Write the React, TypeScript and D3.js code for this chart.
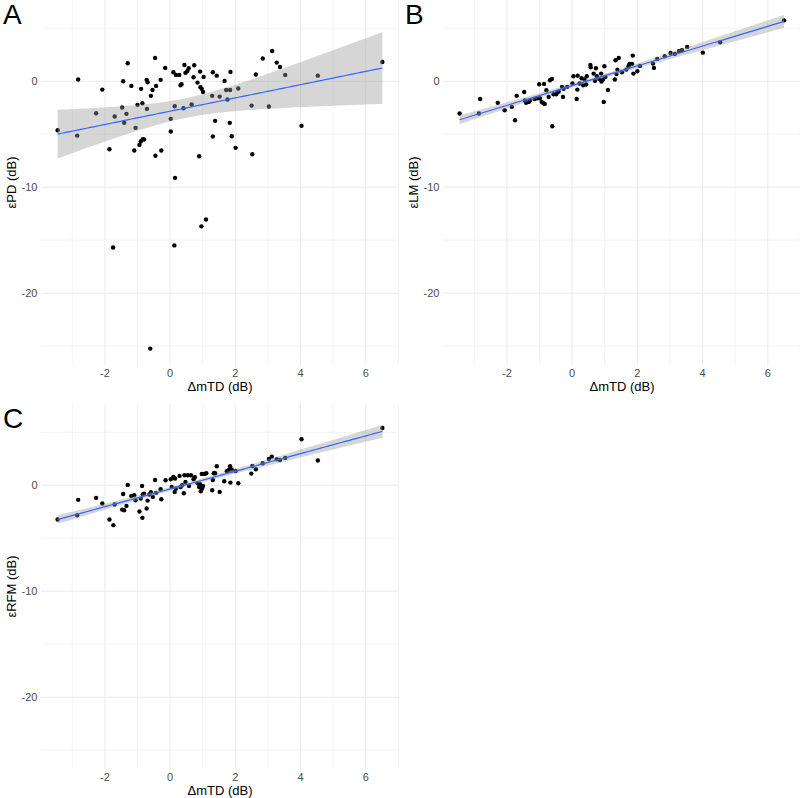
import React from "react";
import * as d3 from "d3";

// ---------- data ----------
const aX = [-3.45,-2.85,-2.82,-2.08,-2.27,-1.86,-1.70,-1.47,-1.44,-1.41,-1.34,-1.30,-1.19,-1.10,-1.06,-1.00,-0.94,-0.90,-0.89,-0.85,-0.84,-0.80,-0.72,-0.71,-0.69,-0.59,-0.54,-0.46,-0.45,-0.43,-0.29,-0.27,-0.15,0.02,0.02,0.10,0.14,0.15,0.18,0.28,0.32,0.35,0.41,0.44,0.47,0.53,0.57,0.66,0.72,0.74,0.84,0.89,0.92,0.93,0.97,1.01,1.03,1.29,1.31,1.31,1.38,1.43,1.52,1.67,1.72,1.76,1.83,1.84,1.85,1.89,2.01,2.09,2.50,2.52,2.63,2.84,3.03,3.13,3.27,3.37,3.53,4.03,4.53,6.51,-1.75,0.13,0.96,1.10,-0.61];
const aY = [-4.62,-5.13,0.16,-0.79,-3.02,-6.42,-3.33,-2.48,0.00,-3.93,-3.08,1.70,-0.44,-6.54,-4.40,-2.23,-6.01,-5.69,-0.72,-2.08,-5.47,-5.50,0.13,-2.61,-0.09,-1.38,-0.82,2.20,-7.04,-0.44,0.13,-6.54,1.26,-3.55,-4.75,0.85,-2.36,-9.12,0.60,0.60,-0.38,-0.28,-2.55,1.54,0.79,0.97,1.23,-2.20,0.38,1.51,-0.13,-7.08,0.91,-0.57,-0.72,-1.01,0.41,-1.38,0.85,-5.22,-3.74,0.53,-1.45,0.03,-0.82,-1.73,-3.93,-0.82,0.88,-5.19,-6.29,-0.69,-2.30,-6.89,0.63,2.14,-2.39,2.86,1.76,1.35,0.60,-4.21,0.53,1.82,-15.7,-15.5,-13.7,-13.06,-25.24];

const bX = [-3.45,-2.86,-2.82,-2.28,-2.07,-1.85,-1.75,-1.70,-1.47,-1.45,-1.41,-1.33,-1.29,-1.15,-1.07,-1.01,-0.99,-0.93,-0.88,-0.84,-0.86,-0.79,-0.72,-0.68,-0.62,-0.61,-0.57,-0.49,-0.45,-0.41,-0.28,-0.26,-0.15,0.01,0.04,0.14,0.16,0.17,0.23,0.29,0.34,0.38,0.43,0.45,0.56,0.57,0.66,0.73,0.76,0.83,0.89,0.90,0.95,0.97,0.99,1.02,1.10,1.31,1.33,1.36,1.39,1.43,1.53,1.66,1.73,1.76,1.84,1.86,1.88,2.00,2.08,2.48,2.51,2.61,2.84,3.02,3.15,3.28,3.37,3.53,4.01,4.54,6.50,-0.31,0.70];
const bY = [-3.05,-3.05,-1.67,-2.04,-2.74,-2.42,-3.68,-1.38,-1.01,-1.82,-2.04,-1.95,-1.79,-1.67,-1.60,-0.28,-1.60,-1.95,-2.08,-2.14,-0.25,-0.85,-1.48,0.09,0.22,-4.25,-1.23,-1.23,-1.04,-0.97,-1.48,-0.72,-0.53,-0.22,0.47,-1.67,-0.79,0.53,-0.22,0.28,-0.38,0.16,-0.31,0.47,1.54,1.32,0.72,1.23,0.47,0.22,0.72,-0.03,0.16,-1.95,1.42,0.41,-0.82,0.16,1.98,0.69,1.10,2.20,0.85,1.10,1.42,1.64,1.64,2.42,0.72,0.94,1.45,1.67,1.26,2.11,2.36,2.67,2.58,2.83,2.92,3.24,2.70,3.68,5.75,-0.53,0.05];

const cX = [-3.45,-2.85,-2.82,-2.27,-2.08,-1.86,-1.74,-1.70,-1.47,-1.44,-1.41,-1.34,-1.30,-1.19,-1.10,-1.06,-0.94,-0.90,-0.86,-0.85,-0.84,-0.80,-0.72,-0.69,-0.64,-0.59,-0.53,-0.46,-0.43,-0.29,-0.27,-0.14,0.02,0.05,0.10,0.14,0.15,0.18,0.29,0.32,0.37,0.42,0.44,0.47,0.54,0.58,0.64,0.72,0.76,0.84,0.89,0.92,0.94,0.97,0.98,1.01,1.05,1.11,1.29,1.31,1.34,1.38,1.43,1.52,1.66,1.74,1.80,1.84,1.85,1.89,2.01,2.09,2.49,2.52,2.63,2.84,3.03,3.12,3.27,3.37,3.53,4.03,4.53,6.51];
const cY = [-3.24,-2.83,-1.38,-1.19,-1.73,-3.24,-3.77,-1.82,-2.30,-0.82,-2.36,-1.95,0.03,-1.01,-0.94,-1.42,-2.48,-1.26,-0.06,-3.08,-0.88,-0.79,-2.20,-1.45,-0.88,-0.66,-1.10,0.50,-0.72,-0.38,-1.32,0.47,0.57,-0.16,0.79,-0.63,0.63,-0.31,0.88,-0.16,0.00,-0.75,0.94,0.31,0.94,-0.06,0.94,0.57,0.75,0.19,-0.16,0.09,-0.57,1.07,-0.31,-0.06,1.07,1.13,-0.47,0.50,1.13,1.13,1.79,-0.63,0.38,1.32,1.45,1.79,0.25,1.48,1.35,0.19,1.10,1.82,1.51,2.08,2.48,2.70,2.45,2.39,2.58,4.34,2.33,5.41];

const xMajor = [-2, 0, 2, 4, 6];
const xMinor = [-3, -1, 1, 3, 5, 7];
const yMajor = [-20, -10, 0];
const yMinor = [-25, -15, -5, 5];
const xTitle = "ΔmTD (dB)";

const FONT = "'Liberation Sans', Arial, Helvetica, sans-serif";
const T_CRIT = 1.99;

function fit(xs: number[], ys: number[]) {
  const n = xs.length;
  const mx = d3.mean(xs)!;
  const my = d3.mean(ys)!;
  let sxx = 0, sxy = 0;
  for (let i = 0; i < n; i++) {
    sxx += (xs[i] - mx) ** 2;
    sxy += (xs[i] - mx) * (ys[i] - my);
  }
  const b = sxy / sxx;
  const a = my - b * mx;
  let sse = 0;
  for (let i = 0; i < n; i++) sse += (ys[i] - a - b * xs[i]) ** 2;
  const s2 = sse / (n - 2);
  const [lo, hi] = d3.extent(xs) as [number, number];
  const pts = d3.range(80).map((i) => {
    const x0 = lo + ((hi - lo) * i) / 79;
    const yh = a + b * x0;
    const se = Math.sqrt(s2 * (1 / n + (x0 - mx) ** 2 / sxx));
    return { x: x0, y: yh, lo: yh - T_CRIT * se, hi: yh + T_CRIT * se };
  });
  return pts;
}

type PanelProps = {
  xs: number[];
  ys: number[];
  left: number;
  top: number;
  tag: string;
  yTitle: string;
};

function Panel({ xs, ys, left, top, tag, yTitle }: PanelProps) {
  const width = 358;
  const height = 365;
  const x = d3.scaleLinear().domain([-3.96, 7.02]).range([left, left + width]);
  const y = d3.scaleLinear().domain([-26.79, 7.67]).range([top + height, top]);
  const pts = fit(xs, ys);
  const area = d3
    .area<{ x: number; lo: number; hi: number }>()
    .x((d) => x(d.x))
    .y0((d) => y(d.lo))
    .y1((d) => y(d.hi));
  const line = d3
    .line<{ x: number; y: number }>()
    .x((d) => x(d.x))
    .y((d) => y(d.y));
  const x0 = x.range()[0], x1 = x.range()[1];
  const y0 = y.range()[1], y1 = y.range()[0];
  return (
    <g>
      <defs>
        <clipPath id={"clip" + tag}>
          <rect x={x0} y={y0} width={width} height={height} />
        </clipPath>
      </defs>
      {xMinor.map((v) => (
        <line key={"xm" + v} x1={x(v)} x2={x(v)} y1={y0} y2={y1} stroke="#F3F3F3" strokeWidth={1} />
      ))}
      {yMinor.map((v) => (
        <line key={"ym" + v} x1={x0} x2={x1} y1={y(v)} y2={y(v)} stroke="#F3F3F3" strokeWidth={1} />
      ))}
      {xMajor.map((v) => (
        <line key={"xM" + v} x1={x(v)} x2={x(v)} y1={y0} y2={y1} stroke="#EBEBEB" strokeWidth={1} />
      ))}
      {yMajor.map((v) => (
        <line key={"yM" + v} x1={x0} x2={x1} y1={y(v)} y2={y(v)} stroke="#EBEBEB" strokeWidth={1} />
      ))}
      <g clipPath={`url(#clip${tag})`}>
        {xs.map((v, i) => (
          <circle key={i} cx={x(v)} cy={y(ys[i])} r={2.2} fill="#000" />
        ))}
        <path d={area(pts) || ""} fill="#999999" fillOpacity={0.4} />
        <path d={line(pts) || ""} fill="none" stroke="#3366FF" strokeWidth={1.2} />
      </g>
      {xMajor.map((v) => (
        <text key={"xt" + v} x={x(v)} y={y1 + 12} textAnchor="middle" fontSize={11} fill="#4D4D4D" fontFamily={FONT}>
          {v}
        </text>
      ))}
      {yMajor.map((v) => (
        <text key={"yt" + v} x={x0 - 3.5} y={y(v) + 4} textAnchor="end" fontSize={11} fill="#4D4D4D" fontFamily={FONT}>
          {v}
        </text>
      ))}
      <text x={(x0 + x1) / 2} y={y1 + 25.5} textAnchor="middle" fontSize={13} fill="#000" fontFamily={FONT}>
        {xTitle}
      </text>
      <text
        transform={`translate(${x0 - 25.5},${(y0 + y1) / 2}) rotate(-90)`}
        textAnchor="middle"
        fontSize={13}
        fill="#000"
        fontFamily={FONT}
      >
        {yTitle}
      </text>
      <text x={left - 38} y={top + 24} fontSize={28} fill="#000" fontFamily={FONT}>
        {tag}
      </text>
    </g>
  );
}

export default function App() {
  return (
    <svg
      width={800}
      height={798}
      style={{ position: "absolute", left: 0, top: 0, display: "block", background: "#fff" }}
    >
      <rect width={800} height={798} fill="#fff" />
      <Panel xs={aX} ys={aY} left={41} top={0} tag="A" yTitle="εPD (dB)" />
      <Panel xs={bX} ys={bY} left={443} top={0} tag="B" yTitle="εLM (dB)" />
      <Panel xs={cX} ys={cY} left={41} top={404} tag="C" yTitle="εRFM (dB)" />
    </svg>
  );
}
